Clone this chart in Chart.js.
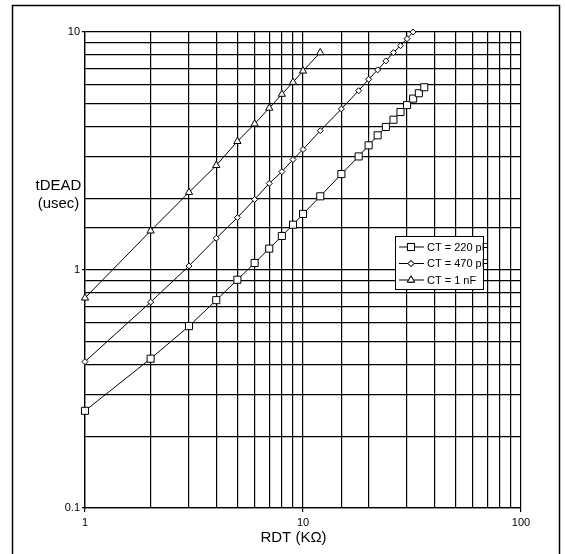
<!DOCTYPE html>
<html>
<head>
<meta charset="utf-8">
<script src="https://cdn.jsdelivr.net/npm/chart.js@4.4.1/dist/chart.umd.min.js"></script>
<style>
  body { margin: 0; background: #fff; }
  #wrap { position: relative; width: 565px; height: 554px; }
</style>
</head>
<body>
<div id="wrap"><canvas id="deadTimeChart"></canvas></div>
<script>
// RDT values (kOhm) and dead time (usec)
const rdt220 = [1, 2, 3, 4, 5, 6, 7, 8, 9, 10, 12, 15, 18, 20, 22, 24, 26, 28, 30, 32, 34, 36];
const tdead220 = [0.256, 0.424, 0.581, 0.747, 0.91, 1.07, 1.23, 1.39, 1.55, 1.72, 2.04, 2.53, 3.0, 3.34, 3.68, 3.99, 4.28, 4.61, 4.93, 5.25, 5.53, 5.86];

const rdt470 = [1, 2, 3, 4, 5, 6, 7, 8, 9, 10, 12, 15, 18, 20, 22, 24, 26, 28, 30, 32];
const tdead470 = [0.412, 0.733, 1.04, 1.36, 1.66, 1.98, 2.31, 2.59, 2.91, 3.21, 3.85, 4.75, 5.67, 6.33, 6.93, 7.56, 8.19, 8.76, 9.37, 10.0];

const rdt1n = [1, 2, 3, 4, 5, 6, 7, 8, 9, 10, 12];
const tdead1n = [0.763, 1.46, 2.12, 2.75, 3.47, 4.11, 4.79, 5.48, 6.15, 6.86, 8.19];

const seriesLabels = ['CT = 220 pF', 'CT = 470 pF', 'CT = 1 nF'];
const xTickLabels = [1, 10, 100];
const yTickLabels = [0.1, 1, 10];

function toPoints(xs, ys) {
    return xs.map((x, i) => ({ x: x, y: ys[i] }));
}

function isDecade(v) {
    const l = Math.log10(v);
    return Math.abs(l - Math.round(l)) < 1e-9;
}

const FONT = "'Liberation Sans', Arial, sans-serif";

// frame, axis titles and the boxed legend inside the plot
const decorPlugin = {
    id: 'decor',
    afterDraw(chart) {
        const ctx = chart.ctx;
        const area = chart.chartArea;
        ctx.save();

        ctx.strokeStyle = '#000';
        ctx.lineWidth = 1.5;
        ctx.strokeRect(12.5, 5.5, 547, 560);

        ctx.fillStyle = '#000';
        ctx.font = '15px ' + FONT;
        ctx.textAlign = 'center';
        ctx.textBaseline = 'middle';
        ctx.fillText('tDEAD', area.left - 26.5, 186);
        ctx.fillText('(usec)', area.left - 26.5, 204);
        ctx.fillText('RDT (K\u03A9)', (area.left + area.right) / 2 - 9.5, 538);

        // legend
        const lx = area.left + 310, ly = area.top + 204;
        ctx.fillStyle = '#fff';
        ctx.fillRect(lx, ly, 88, 53);
        ctx.strokeStyle = '#000';
        ctx.lineWidth = 1;
        ctx.strokeRect(lx + 0.5, ly + 0.5, 88, 53);
        chart.data.datasets.forEach((ds, i) => {
            const y = ly + 11 + i * 16.5;
            ctx.strokeStyle = '#000';
            ctx.lineWidth = 1;
            ctx.beginPath();
            ctx.moveTo(lx + 4, y);
            ctx.lineTo(lx + 29, y);
            ctx.stroke();
            ctx.fillStyle = '#fff';
            Chart.helpers.drawPoint(ctx, {
                pointStyle: ds.pointStyle,
                radius: ds.pointRadius,
                borderWidth: 1
            }, lx + 16, y);
            ctx.fill();
            ctx.stroke();
            ctx.fillStyle = '#000';
            ctx.font = '11px ' + FONT;
            ctx.textAlign = 'left';
            ctx.textBaseline = 'middle';
            ctx.fillText(ds.label, lx + 32, y + 0.5);
        });
        ctx.restore();
    }
};

function makeDataset(label, xs, ys, style, radius) {
    return {
        label: label,
        data: toPoints(xs, ys),
        borderColor: '#000',
        borderWidth: 1,
        backgroundColor: '#fff',
        pointStyle: style,
        pointRadius: radius,
        pointBorderWidth: 1,
        pointBackgroundColor: '#fff',
        pointBorderColor: '#000',
        tension: 0,
        clip: false
    };
}

const ctx = document.getElementById('deadTimeChart').getContext('2d');
new Chart(ctx, {
    type: 'line',
    data: {
        datasets: [
            makeDataset(seriesLabels[0], rdt220, tdead220, 'rect', 5),
            makeDataset(seriesLabels[1], rdt470, tdead470, 'rectRot', 3),
            makeDataset(seriesLabels[2], rdt1n, tdead1n, 'triangle', 4.2)
        ]
    },
    options: {
        responsive: true,
        maintainAspectRatio: false,
        animation: false,
        layout: { padding: { left: 0, right: 44, top: 32, bottom: 0 } },
        plugins: {
            legend: { display: false },
            tooltip: { enabled: false }
        },
        scales: {
            x: {
                type: 'logarithmic',
                min: 1,
                max: 100,
                afterFit: (s) => { s.height = 46; },
                border: { display: true, color: '#000', width: 1.3 },
                grid: {
                    color: '#000',
                    lineWidth: 1.2,
                    drawTicks: true,
                    tickLength: 4,
                    tickColor: (c) => (c.tick && isDecade(c.tick.value) ? '#000' : 'rgba(0,0,0,0)')
                },
                ticks: {
                    autoSkip: false,
                    maxRotation: 0,
                    padding: 4,
                    color: '#000',
                    font: { family: FONT, size: 11 },
                    callback: (v) => (xTickLabels.some(t => Math.abs(t - v) < 1e-9) ? String(v) : '')
                }
            },
            y: {
                type: 'logarithmic',
                min: 0.1,
                max: 10,
                afterFit: (s) => { s.width = 85; },
                border: { display: true, color: '#000', width: 1.3 },
                grid: {
                    color: '#000',
                    lineWidth: 1.2,
                    drawTicks: true,
                    tickLength: 3,
                    tickColor: (c) => (c.tick && isDecade(c.tick.value) ? '#000' : 'rgba(0,0,0,0)')
                },
                ticks: {
                    autoSkip: false,
                    padding: 2,
                    color: '#000',
                    font: { family: FONT, size: 11 },
                    callback: (v) => (yTickLabels.some(t => Math.abs(t - v) < 1e-9) ? String(v) : '')
                }
            }
        }
    },
    plugins: [decorPlugin]
});
</script>
</body>
</html>
